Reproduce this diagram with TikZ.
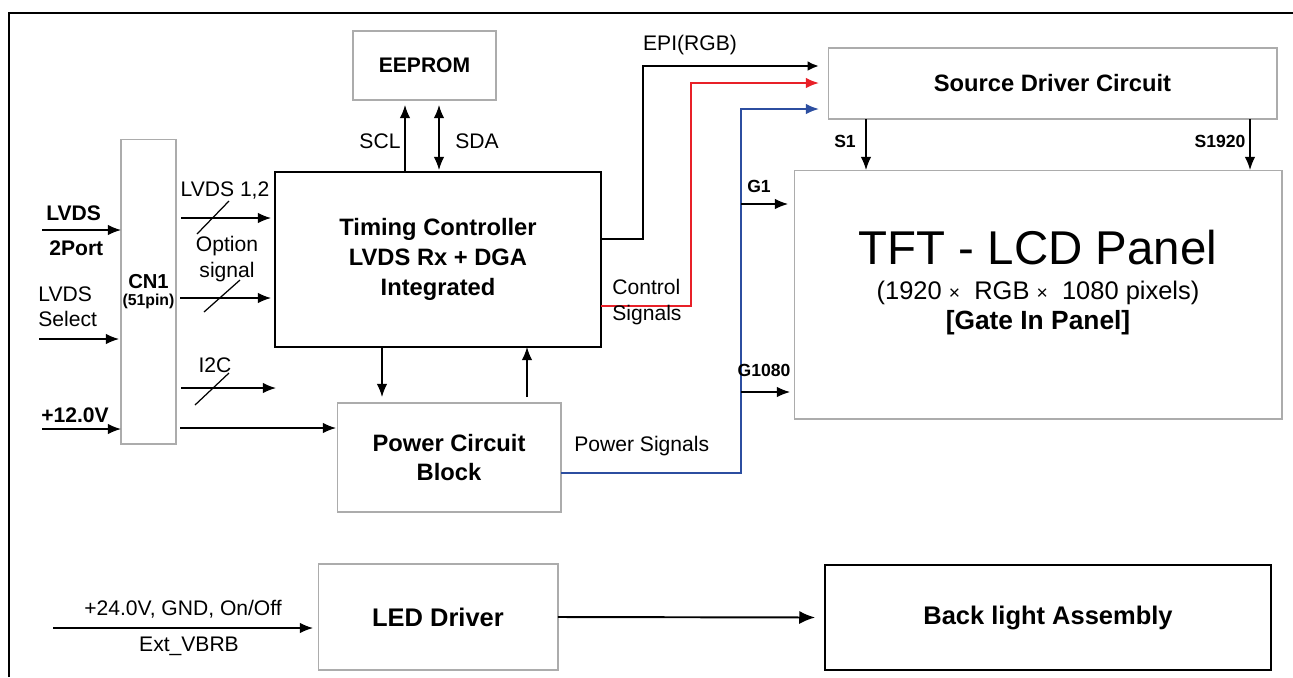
\documentclass[tikz,border=0pt]{standalone}
\usepackage{fontspec}
\setmainfont{Liberation Sans}
\usetikzlibrary{arrows.meta,positioning,calc}
\definecolor{ctlred}{RGB}{232,32,40}
\definecolor{pwrblue}{RGB}{44,78,160}

\begin{document}
\begin{tikzpicture}[
    x=0.02cm, y=-0.02cm,
    >={Latex[length=7.5pt,width=6pt]},
    block/.style={rectangle, draw=gray!65, line width=0.6pt, inner sep=0pt, outer sep=0pt, align=center, font=\bfseries\fontsize{13.5}{17}\selectfont},
    sig/.style={->, line width=0.8pt},
    lbl/.style={font=\fontsize{12}{14.5}\selectfont, inner sep=0pt},
    blbl/.style={font=\bfseries\fontsize{12}{14.5}\selectfont, inner sep=0pt},
    pinlbl/.style={font=\bfseries\fontsize{10}{12}\selectfont, inner sep=0pt},
    slash/.style={line width=0.7pt}
]
    \useasboundingbox (0,0) rectangle (1293,677);
    % outer frame
    \draw[line width=1.1pt] (9,677) -- (9,13) -- (1293,13);

    % blocks
    \node [block, minimum width=1.1cm, minimum height=6.1cm, font=\bfseries\fontsize{11.5}{10}\selectfont] (cn1) at (148.5,291.5) {CN1\\{\fontsize{9}{10}\selectfont(51pin)}};
    \node [block, draw=black, line width=1.1pt, minimum width=6.52cm, minimum height=3.5cm] (tc) at (438,259.5) {Timing Controller\\LVDS Rx + DGA\\Integrated};
    \node [block, minimum width=2.86cm, minimum height=1.38cm, font=\bfseries\fontsize{12}{14}\selectfont] (eeprom) at (424.5,65.5) {EEPROM};
    \node [block, minimum width=4.48cm, minimum height=2.18cm, font=\bfseries\fontsize{13.5}{16.5}\selectfont] (pwr) at (449,457.5) {Power Circuit\\Block};
    \node [block, minimum width=8.98cm, minimum height=1.42cm] (sdc) at (1052.5,83.5) {Source Driver Circuit};
    \node [block, minimum width=9.76cm, minimum height=4.98cm] (tft) at (1038,294.5) {};
    \node [block, minimum width=4.8cm, minimum height=2.12cm, font=\bfseries\fontsize{14.5}{17}\selectfont] (led) at (438,617) {LED Driver};
    \node [block, draw=black, line width=0.9pt, minimum width=8.92cm, minimum height=2.1cm, font=\bfseries\fontsize{14.5}{17}\selectfont] (bla) at (1048,617.5) {Back light Assembly};

    % panel text
    \node [font=\fontsize{27}{30}\selectfont, inner sep=0pt] (tftname) at (1038,248) {TFT - LCD Panel};
    \node [font=\fontsize{14.5}{17}\selectfont, inner sep=0pt] (tftres) at (1038,293) {(1920 {\fontsize{11}{12}\selectfont ×}\ \ RGB {\fontsize{11}{12}\selectfont ×}\ \ 1080 pixels)};
    \node [font=\bfseries\fontsize{15}{17}\selectfont, inner sep=0pt] (tftgip) at (1038,323) {[Gate In Panel]};

    % inputs to CN1
    \coordinate (lvin) at (42,230);
    \coordinate (selin) at (39,339);
    \coordinate (vin) at (42,429);
    \draw[sig] (lvin) -- (lvin -| cn1.west);
    \draw[sig, shorten >=0.04cm] (selin) -- (selin -| cn1.west);
    \draw[sig] (vin) -- (vin -| cn1.west);
    \node [blbl, anchor=west] (lvdsname) at (46,213) {LVDS};
    \node [blbl, anchor=west] (lvdsport) at (49,248) {2Port};
    \node [lbl, anchor=west, align=left, font=\fontsize{12}{14.2}\selectfont] (sellbl) at (38,307) {LVDS\\Select};
    \node [blbl, anchor=west] (vinlbl) at (41,415) {+12.0V};

    % CN1 to timing controller
    \coordinate (lv12) at (181,218);
    \coordinate (opt) at (180,298);
    \coordinate (i2c) at (181,388);
    \coordinate (i2cend) at (276,388);
    \coordinate (vcc) at (180,428);
    \draw[sig, shorten >=0.08cm] (lv12) -- (lv12 -| tc.west);
    \draw[slash] (197,234) -- (229,201);
    \node [lbl] (lv12lbl) at (225,190) {LVDS 1,2};
    \draw[sig, shorten >=0.08cm] (opt) -- (opt -| tc.west);
    \draw[slash] (204,312) -- (240,280);
    \node [lbl, align=center, font=\fontsize{12}{14.8}\selectfont] (optlbl) at (227,259) {Option\\signal};
    \draw[sig] (i2c) -- (i2cend);
    \draw[slash] (195,405) -- (229,373);
    \node [lbl] (i2clbl) at (215,365) {I2C};
    \draw[sig, shorten >=0.02cm] (vcc) -- (vcc -| pwr.west);

    % EEPROM bus
    \coordinate (scl) at (405,0);
    \coordinate (sda) at (439,0);
    \draw[sig, shorten >=0.1cm] (tc.north -| scl) -- (eeprom.south -| scl);
    \draw[sig, <->, shorten >=0.1cm, shorten <=0.04cm] (tc.north -| sda) -- (eeprom.south -| sda);
    \node [lbl] (scllbl) at (380,141) {SCL};
    \node [lbl] (sdalbl) at (477,141) {SDA};

    % timing controller <-> power block
    \coordinate (pdn) at (382,0);
    \coordinate (pup) at (527,0);
    \draw[sig, shorten >=0.12cm] (tc.south -| pdn) -- (pwr.north -| pdn);
    \draw[sig, shorten <=0.12cm] (pwr.north -| pup) -- (tc.south -| pup);

    % signals to source driver
    \coordinate (epi) at (643,66);
    \coordinate (epilow) at (643,239);
    \coordinate (ctl) at (691,83);
    \coordinate (ctllow) at (691,306);
    \coordinate (pw) at (741,109);
    \coordinate (pwlow) at (741,473);
    \draw[sig, line width=1.5pt, >={Latex[length=6.5pt,width=5.5pt]}, shorten >=0.18cm] (epilow -| tc.east) -- (epilow) -- (epi) -- (epi -| sdc.west);
    \draw[sig, ctlred, line width=1.1pt, shorten >=0.18cm] (ctllow -| tc.east) -- (ctllow) -- (ctl) -- (ctl -| sdc.west);
    \draw[sig, pwrblue, line width=1.1pt, shorten >=0.18cm] (pwlow -| pwr.east) -- (pwlow) -- (pw) -- (pw -| sdc.west);
    \node [lbl] (epilbl) at (690,45) {EPI(RGB)};
    \node [lbl, anchor=west, align=left, font=\fontsize{12}{14.8}\selectfont] (ctllbl) at (612,302) {Control\\Signals};
    \node [lbl, anchor=west] (pwlbl) at (574,446) {Power Signals};

    % gate lines
    \coordinate (g1) at (741,204);
    \coordinate (gn) at (741,392);
    \draw[sig, shorten >=0.12cm] (g1) -- (g1 -| tft.west);
    \draw[sig, shorten >=0.08cm] (gn) -- (gn -| tft.west);
    \node [pinlbl] (g1lbl) at (759,186) {G1};
    \node [pinlbl] (gnlbl) at (764,370) {G1080};

    % source lines
    \coordinate (s1) at (866,0);
    \coordinate (sn) at (1250,0);
    \draw[sig] (sdc.south -| s1) -- (tft.north -| s1);
    \draw[sig] (sdc.south -| sn) -- (tft.north -| sn);
    \node [pinlbl] (s1lbl) at (845,141) {S1};
    \node [pinlbl] (snlbl) at (1220,141) {S1920};

    % backlight path
    \coordinate (ledin) at (53,628);
    \draw[sig, shorten >=0.1cm] (ledin) -- (ledin -| led.west);
    \node [lbl] (ledlbl) at (183,609) {+24.0V, GND, On/Off};
    \node [lbl] (vbrlbl) at (189,646) {Ext\_VBRB};
    \draw[sig, line width=1.1pt, >={Latex[length=9pt,width=7.5pt]}, shorten >=0.2cm] (led.east) -- (bla.west);
\end{tikzpicture}
\end{document}
